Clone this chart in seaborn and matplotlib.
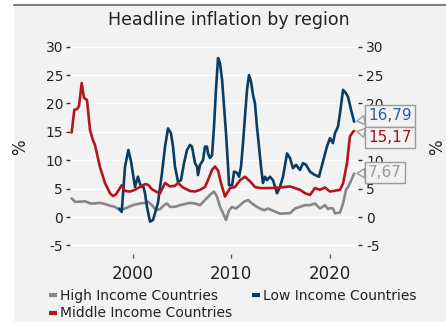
import matplotlib
matplotlib.use("Agg")
import matplotlib.pyplot as plt
from matplotlib.patches import Rectangle
from matplotlib.lines import Line2D
import seaborn as sns
import pandas as pd

# ---------------- data ----------------
high_years = [1993.76, 1994.10, 1994.61, 1995.12, 1995.63, 1996.13, 1996.64, 1997.15, 1997.66,
              1998.17, 1998.68, 1999.19, 1999.69, 2000.20, 2000.71, 2001.22, 2001.53, 2001.93,
              2002.34, 2002.75, 2003.16, 2003.46, 2003.76, 2004.27, 2004.78, 2005.29, 2005.80,
              2006.31, 2006.82, 2007.32, 2007.83, 2008.24, 2008.55, 2008.85, 2009.16, 2009.46,
              2009.77, 2010.08, 2010.48, 2010.89, 2011.29, 2011.70, 2012.11, 2012.51, 2012.92,
              2013.33, 2013.74, 2014.14, 2014.55, 2014.95, 2015.46, 2015.97, 2016.48, 2016.99,
              2017.50, 2018.01, 2018.51, 2019.02, 2019.53, 2019.84, 2020.04, 2020.34, 2020.55,
              2021.06, 2021.37, 2021.67, 2021.87, 2022.07, 2022.28, 2022.50]
high_vals = [3.3, 2.7, 2.7, 2.8, 2.4, 2.4, 2.5, 2.3, 2.0,
             1.8, 1.2, 1.5, 1.9, 2.2, 2.4, 2.5, 2.7, 2.1,
             1.2, 1.4, 2.1, 2.4, 1.8, 1.8, 2.1, 2.3, 2.5,
             2.4, 2.1, 3.0, 3.9, 4.5, 3.6, 1.8, 0.7, -0.5,
             1.2, 1.8, 1.5, 2.1, 2.7, 3.0, 2.4, 1.9, 1.5,
             1.2, 1.5, 1.2, 0.9, 0.6, 0.65, 0.7, 1.5, 1.8,
             2.1, 2.1, 2.4, 1.5, 2.1, 1.4, 1.6, 1.5, 0.65,
             0.8, 2.4, 4.8, 5.3, 6.0, 6.8, 7.67]

low_years = [1998.60, 1998.85, 1999.19, 1999.53, 1999.80, 2000.20, 2000.50, 2000.81, 2001.02,
             2001.22, 2001.42, 2001.73, 2002.04, 2002.24, 2002.54, 2002.95, 2003.26, 2003.56,
             2003.86, 2004.07, 2004.27, 2004.58, 2004.88, 2005.19, 2005.49, 2005.80, 2006.00,
             2006.31, 2006.51, 2006.61, 2006.82, 2007.12, 2007.32, 2007.53, 2007.63, 2007.83,
             2008.04, 2008.24, 2008.44, 2008.65, 2008.85, 2009.06, 2009.26, 2009.46, 2009.67,
             2009.77, 2010.08, 2010.28, 2010.58, 2010.79, 2010.99, 2011.19, 2011.39, 2011.60,
             2011.80, 2012.00, 2012.21, 2012.41, 2012.61, 2012.82, 2013.02, 2013.22, 2013.43,
             2013.63, 2013.94, 2014.24, 2014.65, 2014.95, 2015.26, 2015.67, 2015.97, 2016.28,
             2016.58, 2016.99, 2017.30, 2017.60, 2018.01, 2018.41, 2018.92, 2019.33, 2019.73,
             2020.04, 2020.34, 2020.55, 2020.85, 2021.06, 2021.37, 2021.67, 2021.87, 2022.18,
             2022.50]
low_vals = [1.5, 0.9, 8.9, 11.8, 9.8, 5.3, 7.1, 5.3, 5.6,
            4.2, 1.8, -0.8, -0.5, 0.7, 2.5, 7.8, 12.4, 15.6,
            14.8, 12.4, 8.9, 6.2, 6.5, 9.5, 11.8, 12.7, 12.4,
            9.5, 8.9, 7.4, 9.2, 10.0, 12.4, 12.4, 11.2, 10.4,
            10.9, 15.9, 22.4, 28.0, 27.1, 24.2, 19.5, 14.8, 8.9,
            5.6, 5.6, 8.0, 7.8, 7.1, 8.9, 13.0, 17.7, 22.4,
            25.0, 23.9, 21.5, 20.0, 15.9, 12.4, 8.9, 6.0, 7.1,
            6.5, 7.1, 6.5, 4.2, 5.3, 7.1, 11.2, 10.4, 8.6,
            9.2, 8.3, 9.5, 9.2, 8.0, 7.5, 7.1, 9.8, 12.4,
            13.9, 13.0, 14.8, 15.9, 18.3, 22.4, 21.8, 21.2, 18.9,
            16.79]

mid_years = [1993.76, 1994.03, 1994.30, 1994.50, 1994.78, 1995.01, 1995.32, 1995.63, 1995.93,
             1996.13, 1996.64, 1997.15, 1997.66, 1997.97, 1998.27, 1998.85, 1999.19, 1999.69,
             2000.20, 2000.71, 2001.22, 2001.53, 2001.93, 2002.44, 2002.75, 2003.26, 2003.76,
             2004.27, 2004.58, 2005.09, 2005.80, 2006.31, 2006.82, 2007.32, 2007.63, 2008.04,
             2008.34, 2008.65, 2008.95, 2009.36, 2009.87, 2010.38, 2010.89, 2011.39, 2011.90,
             2012.41, 2012.92, 2013.94, 2014.95, 2015.97, 2016.99, 2017.50, 2018.01, 2018.51,
             2019.02, 2019.53, 2020.04, 2021.06, 2021.37, 2021.77, 2022.07, 2022.38, 2022.50]
mid_vals = [14.9, 18.9, 19.0, 19.5, 23.6, 21.0, 20.6, 15.3, 13.5,
            12.7, 8.8, 6.0, 4.2, 3.7, 4.0, 5.6, 4.6, 4.5,
            4.8, 5.3, 5.8, 5.7, 4.9, 4.4, 4.2, 6.0, 5.4,
            5.5, 6.0, 5.2, 4.6, 4.5, 4.8, 5.3, 6.5, 8.3,
            8.9, 8.2, 6.0, 3.6, 5.1, 5.3, 6.5, 7.1, 6.3,
            5.3, 5.1, 5.1, 5.2, 5.4, 4.8, 4.2, 3.9, 5.1,
            4.8, 5.2, 4.5, 4.8, 5.9, 9.5, 14.2, 15.0, 15.17]

series_names = ["High Income Countries", "Low Income Countries", "Middle Income Countries"]
series_colors = ["#878787", "#0b3d63", "#b3151c"]
label_colors = ["#9a9a9a", "#2f5b9c", "#a50f15"]
label_texts = ["7,67", "16,79", "15,17"]
label_ypos = [7.8, 17.8, 14.0]

y_ticks = [-5, 0, 5, 10, 15, 20, 25, 30]
x_ticks = [2000, 2010, 2020]
title = "Headline inflation by region"

# ---------------- frame ----------------
df = pd.concat([
    pd.DataFrame({"year": high_years, "value": high_vals, "series": series_names[0]}),
    pd.DataFrame({"year": low_years, "value": low_vals, "series": series_names[1]}),
    pd.DataFrame({"year": mid_years, "value": mid_vals, "series": series_names[2]}),
], ignore_index=True)

sns.set_theme(style="white")
plt.rcParams["font.family"] = ["DejaVu Sans"]
plt.rcParams["axes.unicode_minus"] = False

BG = "#f2f2f2"
W, H = 446, 322
fig = plt.figure(figsize=(W / 100, H / 100), dpi=100)
fig.patch.set_facecolor("white")
fig.patches.append(Rectangle((14 / W, 0), 1 - 14 / W, (H - 5) / H, transform=fig.transFigure,
                             facecolor=BG, edgecolor="none", zorder=-10))
fig.lines.append(Line2D([14 / W, 1], [(H - 5) / H, (H - 5) / H], transform=fig.transFigure,
                        color="#7f7f7f", lw=1.5))

ax = fig.add_axes([70 / W, (H - 254) / H, 288 / W, 213 / H])
ax.set_facecolor(BG)

sns.lineplot(data=df, x="year", y="value", hue="series", hue_order=series_names,
             palette=dict(zip(series_names, series_colors)), linewidth=1.9,
             estimator=None, sort=False, legend=False, ax=ax)
for ln in ax.lines:
    ln.set_solid_joinstyle("round")

ax.set_xlim(1993.59, 2022.89)
ax.set_ylim(-6.5, 31)
ax.set_yticks(y_ticks)
ax.set_xticks(x_ticks)
ax.set_xlabel("")
ax.set_ylabel("%", fontsize=12, color="#222222")
ax.yaxis.set_label_coords(-0.142, 0.5)
for s in ax.spines.values():
    s.set_visible(False)
ax.grid(axis="y", color="white", lw=1.0)
ax.grid(axis="x", visible=False)
ax.set_axisbelow(True)
ax.tick_params(axis="y", which="both", left=True, length=3, width=1, pad=2,
               color="#333333", labelsize=10, labelcolor="#222222")
ax.tick_params(axis="x", which="both", bottom=True, length=3, width=1, pad=5,
               color="#555555", labelsize=12, labelcolor="#222222")

ax2 = ax.twinx()
ax2.set_ylim(ax.get_ylim())
ax2.set_yticks(y_ticks)
for s in ax2.spines.values():
    s.set_visible(False)
ax2.tick_params(axis="y", right=True, length=3, width=1, pad=3,
                color="#333333", labelsize=10, labelcolor="#222222")
ax2.set_ylabel("%", fontsize=12, color="#222222", rotation=90)
ax2.yaxis.set_label_coords(1.243, 0.5)
ax2.grid(False)

# end-value labels
ends = [(high_years[-1], high_vals[-1]), (low_years[-1], low_vals[-1]), (mid_years[-1], mid_vals[-1])]
for (ex, ey), txt, col, ty in zip(ends, label_texts, label_colors, label_ypos):
    ax2.annotate(txt, xy=(ex, ey), xycoords=ax.transData,
                 xytext=(1.035, ty), textcoords=("axes fraction", "data"),
                 ha="left", va="center", fontsize=11, color=col, annotation_clip=False,
                 zorder=10,
                 bbox=dict(boxstyle="square,pad=0.2", fc=BG, ec="#9a9a9a", lw=1),
                 arrowprops=dict(arrowstyle="wedge,tail_width=0.6,shrink_factor=0.5",
                                 fc=BG, ec="#9a9a9a", lw=1, shrinkA=0, shrinkB=2))

# title
fig.text(228.5 / W, (H - 20) / H, title, ha="center", va="center", fontsize=12.5, color="#222222")

# legend
handles = {n: Line2D([], [], color=c, lw=3, solid_capstyle="butt")
           for n, c in zip(series_names, series_colors)}
order = [series_names[0], series_names[2], series_names[1]]
fig.legend([handles[n] for n in order], order, loc="upper left",
           bbox_to_anchor=(49 / W, (H - 289) / H), ncol=2, frameon=False,
           fontsize=10, handlelength=0.6, handletextpad=0.2, columnspacing=1.4,
           labelspacing=0.25, borderpad=0, borderaxespad=0, labelcolor="#222222")

fig.savefig("out.png", dpi=100, facecolor=fig.get_facecolor())
